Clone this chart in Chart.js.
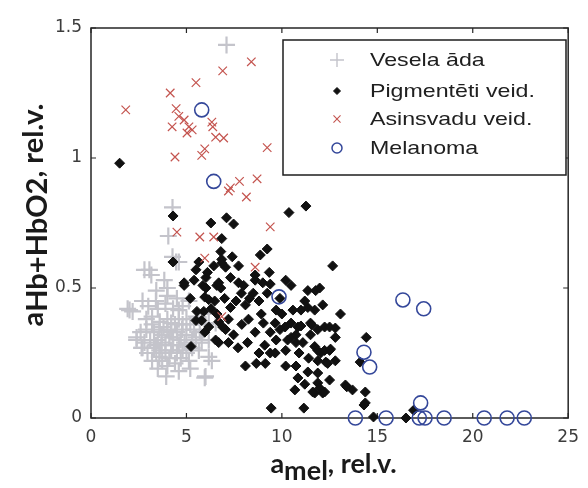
<!DOCTYPE html>
<html>
<head>
<meta charset="utf-8">
<script src="https://cdn.jsdelivr.net/npm/chart.js@4/dist/chart.umd.min.js"></script>
<style>
  html, body { margin: 0; padding: 0; background: #fff; }
  #wrap { width: 588px; height: 488px; }
</style>
</head>
<body>
<div id="wrap"><canvas id="scatter"></canvas></div>
<script>
// values: x = a_mel, y = a_Hb+HbO2 (rel.v.)
const xTicks = [0, 5, 10, 15, 20, 25];
const yTicks = [0, 0.5, 1, 1.5];
const seriesNames = ['Vesela āda', 'Pigmentēti veid.', 'Asinsvadu veid.', 'Melanoma'];

const veselaAda = [
  [7.1,1.435],[4.27,0.81],[4.05,0.70],[4.46,0.60],[4.27,0.62],[3.06,0.57],[2.8,0.57],[3.16,0.55],
  [4.6,0.60],[3.84,0.53],[4.0,0.50],[3.42,0.49],[2.7,0.45],[5.13,0.45],[2.02,0.415],[1.92,0.42],
  [2.18,0.41],[3.2,0.39],[4.6,0.415],[6.17,0.40],[4.2,0.365],[6.53,0.365],[4.77,0.34],[3.58,0.34],
  [2.9,0.34],[2.39,0.30],[2.39,0.31],[2.65,0.27],[2.7,0.27],[2.96,0.25],[3.58,0.235],[3.42,0.25],
  [3.73,0.22],[3.2,0.22],[5.13,0.22],[5.65,0.26],[5.5,0.31],[6.17,0.30],[5.3,0.27],[6.17,0.235],
  [6.33,0.22],[3.94,0.16],[6.0,0.16],[5.96,0.155],
  [3.5,0.30],[3.7,0.32],[3.9,0.29],[4.1,0.31],[4.3,0.28],[4.5,0.33],[4.7,0.30],[4.9,0.29],
  [5.0,0.32],[3.6,0.37],[3.8,0.35],[4.0,0.38],[4.2,0.33],[4.4,0.36],[4.6,0.38],[4.8,0.36],
  [5.0,0.38],[3.3,0.33],[3.1,0.30],[3.4,0.28],[3.6,0.26],[3.9,0.25],[4.2,0.26],[4.5,0.25],
  [4.8,0.26],[4.1,0.23],[4.4,0.21],[4.7,0.23],[5.0,0.25],[5.3,0.30],[5.4,0.34],[5.2,0.36],
  [3.2,0.36],[2.9,0.38],[3.5,0.42],[3.9,0.44],[4.3,0.42],[4.8,0.43],[3.7,0.28],[4.0,0.34],
  [4.3,0.31],[4.6,0.28],[3.3,0.27],[2.6,0.33],[2.8,0.29],[5.7,0.33],[5.8,0.29],[4.0,0.20],
  [3.5,0.19],[4.6,0.18],[5.2,0.19],[3.0,0.43],[4.0,0.47],[5.5,0.39],[6.0,0.36],[3.4,0.45],[4.5,0.46]
];

const pigmentetiVeid = [
  [1.5,0.98],[4.3,0.777],[7.1,0.77],[10.37,0.79],[11.26,0.815],[6.28,0.75],[7.47,0.746],[6.85,0.69],
  [9.23,0.65],[8.87,0.627],[6.8,0.64],[6.85,0.61],[4.3,0.60],[5.5,0.57],[6.43,0.585],[7.05,0.58],
  [7.73,0.585],[8.6,0.55],[9.34,0.56],[12.66,0.585],[4.88,0.51],[5.86,0.51],[6.59,0.51],[7.31,0.54],
  [7.73,0.52],[8.6,0.53],[9.39,0.515],[10.2,0.53],[10.48,0.51],[5.96,0.465],[6.8,0.50],[7.88,0.48],
  [8.5,0.48],[9.23,0.48],[11.36,0.49],[11.77,0.49],[5.91,0.41],[6.48,0.45],[7.31,0.425],[8.09,0.435],
  [8.92,0.40],[9.7,0.415],[10.58,0.415],[11.36,0.425],[12.14,0.435],[5.5,0.375],[6.17,0.35],[7.05,0.34],
  [7.47,0.32],[8.25,0.38],[9.03,0.365],[9.65,0.365],[10.17,0.35],[10.84,0.35],[11.5,0.365],[12.24,0.35],
  [5.96,0.33],[6.69,0.29],[5.24,0.275],[9.39,0.33],[9.7,0.30],[10.48,0.31],[11.5,0.32],[9.39,0.25],
  [10.2,0.26],[10.74,0.29],[11.72,0.275],[12.03,0.25],[12.5,0.26],[8.09,0.20],[8.66,0.21],[9.13,0.21],
  [9.65,0.25],[10.2,0.20],[10.74,0.20],[11.36,0.177],[11.88,0.22],[12.3,0.215],[11.88,0.173],[10.84,0.154],
  [10.68,0.108],[11.88,0.135],[11.72,0.096],[12.14,0.096],[9.44,0.038],[11.15,0.038],
  [11.98,0.50],[11.2,0.45],[11.0,0.415],[11.72,0.415],[13.07,0.40],[10.48,0.365],[11.0,0.354],[11.57,0.358],
  [11.88,0.34],[12.5,0.35],[12.8,0.346],[12.8,0.31],[10.74,0.32],[11.1,0.29],[11.88,0.26],[12.24,0.26],
  [12.55,0.265],[12.4,0.21],[12.5,0.146],[11.62,0.10],[11.98,0.115],[12.24,0.10],[13.33,0.127],[13.7,0.108],
  [14.42,0.31],[14.37,0.10],[14.37,0.058],[13.4,0.12],[14.1,0.215],[14.8,0.004],[16.5,0.0],[16.9,0.03],
  [14.3,0.05],
  [4.88,0.52],[5.65,0.60],[6.02,0.54],[5.55,0.41],[5.8,0.375],[6.69,0.37],[6.53,0.30],[6.02,0.50],
  [6.17,0.455],[6.69,0.52],[6.85,0.596],
  [6.3,0.42],[6.6,0.40],[7.0,0.46],[7.6,0.45],[8.3,0.46],[8.0,0.51],[8.8,0.45],[9.0,0.52],
  [9.9,0.46],[10.0,0.40],[7.2,0.38],[7.9,0.36],[8.6,0.33],[8.2,0.29],[7.7,0.27],[9.1,0.28],
  [10.3,0.30],[9.9,0.34],[6.1,0.56],[7.4,0.62],[5.2,0.46],[5.4,0.53],[6.9,0.35],[7.2,0.29],
  [8.8,0.25],[10.9,0.25],[11.4,0.23],[12.8,0.22],[11.2,0.13]
];

const asinsvaduVeid = [
  [1.82,1.185],[4.15,1.25],[5.5,1.29],[6.9,1.335],[8.4,1.37],[4.46,1.19],[4.6,1.16],[4.25,1.12],
  [4.88,1.146],[5.13,1.12],[5.3,1.108],[5.03,1.096],[6.33,1.138],[6.38,1.12],[6.53,1.08],[6.95,1.077],
  [9.23,1.04],[5.96,1.035],[5.8,1.01],[4.4,1.004],[7.78,0.91],[8.7,0.92],[7.3,0.885],[7.2,0.873],
  [8.14,0.85],[4.5,0.715],[5.7,0.696],[6.43,0.696],[9.39,0.735],[5.96,0.615],[8.6,0.58],[6.85,0.39]
];

const melanoma = [
  [5.8,1.185],[6.43,0.91],[9.85,0.466],[16.34,0.454],[17.43,0.42],[14.3,0.253],[14.6,0.196],[17.27,0.058],
  [13.85,0],[15.46,0],[17.2,0],[17.5,0],[18.5,0],[20.6,0],[21.8,0],[22.7,0]
];

const toPoints = arr => arr.map(([x, y]) => ({ x, y }));

const tickFont = { family: '"DejaVu Sans"', size: 17 };
const tickColor = '#3c3c3c';

// frame with inward ticks (all four sides), drawn under the markers
const framePlugin = {
  id: 'frame',
  beforeDatasetsDraw(chart) {
    const { ctx, chartArea: a, scales: { x, y } } = chart;
    ctx.save();
    ctx.strokeStyle = '#262626';
    ctx.lineWidth = 1.5;
    ctx.strokeRect(a.left, a.top, a.right - a.left, a.bottom - a.top);
    ctx.lineWidth = 1.2;
    ctx.beginPath();
    xTicks.forEach(v => {
      const px = x.getPixelForValue(v);
      ctx.moveTo(px, a.bottom); ctx.lineTo(px, a.bottom - 5);
      ctx.moveTo(px, a.top); ctx.lineTo(px, a.top + 5);
    });
    yTicks.forEach(v => {
      const py = y.getPixelForValue(v);
      ctx.moveTo(a.left, py); ctx.lineTo(a.left + 5, py);
      ctx.moveTo(a.right, py); ctx.lineTo(a.right - 5, py);
    });
    ctx.stroke();
    ctx.restore();
  }
};

// text made of pieces with their own baseline shift (subscripts)
function drawPieces(ctx, pieces, cx, baseY) {
  const total = pieces.reduce((s, p) => s + ctx.measureText(p.t).width, 0);
  let px = cx - total / 2;
  pieces.forEach(p => {
    ctx.fillText(p.t, px, baseY + p.dy);
    px += ctx.measureText(p.t).width;
  });
}

const titlesPlugin = {
  id: 'titles',
  afterDraw(chart) {
    const { ctx, chartArea: a } = chart;
    ctx.save();
    ctx.fillStyle = '#1a1a1a';
    ctx.textAlign = 'left';
    ctx.textBaseline = 'alphabetic';
    ctx.font = 'bold 27px Lato';
    drawPieces(ctx, [
      { t: 'a', dy: 0 }, { t: 'mel', dy: 7 }, { t: ', rel.v.', dy: 0 }
    ], (a.left + a.right) / 2 + 4, 473);

    ctx.translate(43, (a.top + a.bottom) / 2 - 8);
    ctx.rotate(-Math.PI / 2);
    ctx.font = 'bold 29px Lato';
    drawPieces(ctx, [
      { t: 'a', dy: 0 }, { t: 'Hb+HbO2', dy: 4 }, { t: ', rel.v.', dy: 0 }
    ], 0, 0);
    ctx.restore();
  }
};

// boxed legend inside the plot, markers drawn with the chart's own point styles
const legendPlugin = {
  id: 'boxLegend',
  afterDatasetsDraw(chart) {
    const { ctx } = chart;
    const box = { l: 283, t: 40, w: 283, h: 135 };
    const rows = [60, 91, 119, 148];
    ctx.save();
    ctx.fillStyle = '#fff';
    ctx.fillRect(box.l, box.t, box.w, box.h);
    ctx.strokeStyle = '#1e1e1e';
    ctx.lineWidth = 1.5;
    ctx.strokeRect(box.l, box.t, box.w, box.h);
    chart.data.datasets.forEach((ds, i) => {
      const y = rows[i];
      ctx.save();
      ctx.strokeStyle = ds.pointBorderColor;
      ctx.fillStyle = ds.pointBackgroundColor;
      ctx.lineWidth = ds.legendBorder;
      Chart.helpers.drawPoint(ctx, {
        pointStyle: ds.pointStyle, radius: ds.legendRadius, borderWidth: ds.legendBorder, rotation: 0
      }, 337, y);
      ctx.restore();
      ctx.save();
      ctx.translate(370, y);
      ctx.scale(1.22, 1);
      ctx.fillStyle = '#202020';
      ctx.font = '19px "Liberation Sans"';
      ctx.textBaseline = 'middle';
      ctx.fillText(ds.label, 0, 1);
      ctx.restore();
    });
    ctx.restore();
  }
};

new Chart(document.getElementById('scatter'), {
  type: 'scatter',
  data: {
    datasets: [
      {
        label: seriesNames[0], data: toPoints(veselaAda), order: 4, clip: false,
        pointStyle: 'cross', pointRadius: 8.5, pointHoverRadius: 8.5, legendRadius: 7, legendBorder: 1.4,
        pointBorderColor: '#c4c4cb', pointBackgroundColor: '#c4c4cb', pointBorderWidth: 2.2
      },
      {
        label: seriesNames[1], data: toPoints(pigmentetiVeid), order: 3, clip: false,
        pointStyle: 'rectRot', pointRadius: 5, pointHoverRadius: 5, legendRadius: 3.5, legendBorder: 1,
        pointBorderColor: '#111', pointBackgroundColor: '#111', pointBorderWidth: 1
      },
      {
        label: seriesNames[2], data: toPoints(asinsvaduVeid), order: 2, clip: false,
        pointStyle: 'crossRot', pointRadius: 6, pointHoverRadius: 6, legendRadius: 5, legendBorder: 1.1,
        pointBorderColor: '#c4544f', pointBackgroundColor: '#c4544f', pointBorderWidth: 1.2
      },
      {
        label: seriesNames[3], data: toPoints(melanoma), order: 1, clip: false,
        pointStyle: 'circle', pointRadius: 7, pointHoverRadius: 7, legendRadius: 5, legendBorder: 1.5,
        pointBorderColor: '#34479a', pointBackgroundColor: 'rgba(0,0,0,0)', pointBorderWidth: 1.6
      }
    ]
  },
  options: {
    responsive: true,
    maintainAspectRatio: false,
    animation: false,
    events: [],
    layout: { padding: { top: 28, right: 15, left: 0, bottom: 0 } },
    plugins: { legend: { display: false }, tooltip: { enabled: false } },
    scales: {
      x: {
        type: 'linear', min: 0, max: 25,
        afterBuildTicks: s => { s.ticks = xTicks.map(v => ({ value: v })); },
        afterFit: s => { s.height = 70; },
        grid: { display: false, drawTicks: false },
        border: { display: false },
        ticks: { font: tickFont, color: tickColor, padding: 9, maxRotation: 0, callback: v => String(v) }
      },
      y: {
        type: 'linear', min: 0, max: 1.5,
        afterBuildTicks: s => { s.ticks = yTicks.map(v => ({ value: v })); },
        afterFit: s => { s.width = 91; },
        grid: { display: false, drawTicks: false },
        border: { display: false },
        ticks: { font: tickFont, color: tickColor, padding: 9, callback: v => String(v) }
      }
    }
  },
  plugins: [framePlugin, legendPlugin, titlesPlugin]
});
</script>
</body>
</html>
